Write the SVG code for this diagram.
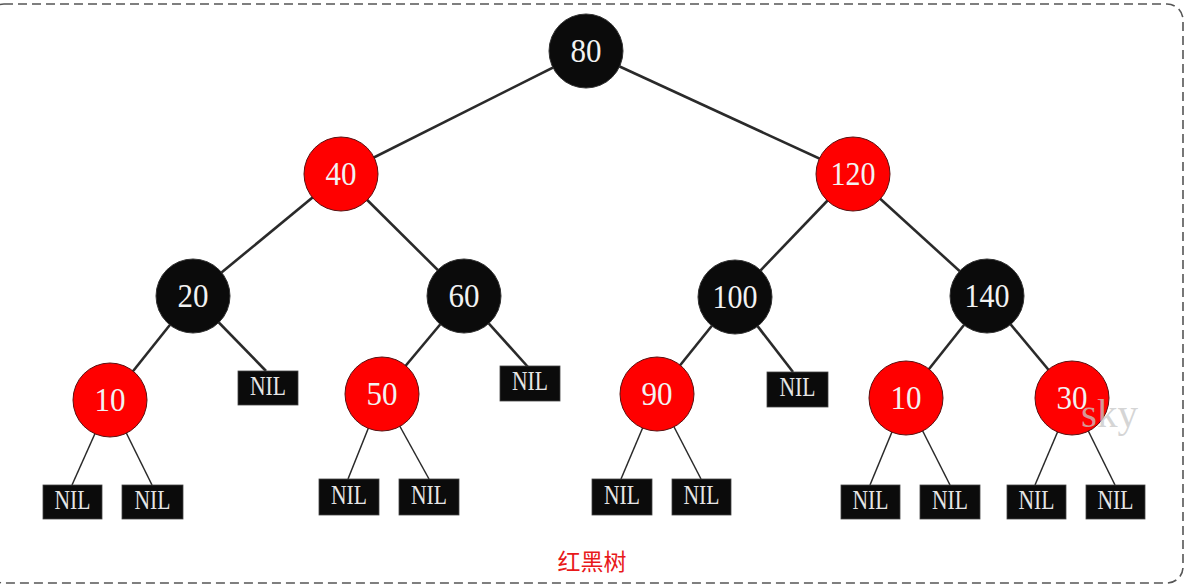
<svg xmlns="http://www.w3.org/2000/svg" width="1196" height="586" viewBox="0 0 1196 586">
<style>
.frame{fill:none;stroke:#555;stroke-width:1.6;stroke-dasharray:9 5}
.e{stroke:#2a2a2a;stroke-width:2.6;fill:none}
.t{stroke:#2a2a2a;stroke-width:1.5;fill:none}
.red{fill:#ff0000;stroke:#5a1010;stroke-width:1}
.blk{fill:#0b0b0b;stroke:#333;stroke-width:1}
.nil{fill:#0b0b0b;stroke:#444;stroke-width:0.8}
.lbl{font-family:"Liberation Serif","DejaVu Serif",serif;font-size:34px;fill:#f2f2f2;text-anchor:middle}
.nl{font-family:"Liberation Serif","DejaVu Serif",serif;font-size:27px;fill:#e6e6e6;text-anchor:middle}
.cap{font-family:"Noto Sans CJK SC","Noto Sans",sans-serif;font-size:23px;fill:#e8191a;text-anchor:middle}
.wm{font-family:"Liberation Serif","DejaVu Serif",serif;font-size:39px;fill:#c8c8c8;fill-opacity:0.75}
</style>
<rect class="frame" x="-12" y="4" width="1195" height="579" rx="16"/>
<g id="connectors">
<line class="e" x1="586" y1="51" x2="341" y2="174"/>
<line class="e" x1="586" y1="51" x2="853" y2="174"/>
<line class="e" x1="341" y1="174" x2="193" y2="296"/>
<line class="e" x1="341" y1="174" x2="464" y2="296"/>
<line class="e" x1="853" y1="174" x2="735" y2="297"/>
<line class="e" x1="853" y1="174" x2="987" y2="296"/>
<line class="e" x1="193" y1="296" x2="110" y2="400"/>
<line class="e" x1="193" y1="296" x2="266" y2="371"/>
<line class="e" x1="464" y1="296" x2="382" y2="394"/>
<line class="e" x1="464" y1="296" x2="528" y2="367"/>
<line class="e" x1="735" y1="297" x2="657" y2="394"/>
<line class="e" x1="735" y1="297" x2="793" y2="372"/>
<line class="e" x1="987" y1="296" x2="906" y2="398"/>
<line class="e" x1="987" y1="296" x2="1072" y2="398"/>
<line class="t" x1="110" y1="400" x2="72" y2="485"/>
<line class="t" x1="110" y1="400" x2="152" y2="485"/>
<line class="t" x1="382" y1="394" x2="348" y2="479"/>
<line class="t" x1="382" y1="394" x2="429" y2="479"/>
<line class="t" x1="657" y1="394" x2="621" y2="479"/>
<line class="t" x1="657" y1="394" x2="701" y2="479"/>
<line class="t" x1="906" y1="398" x2="870" y2="485"/>
<line class="t" x1="906" y1="398" x2="950" y2="485"/>
<line class="t" x1="1072" y1="398" x2="1035" y2="485"/>
<line class="t" x1="1072" y1="398" x2="1115" y2="485"/>
</g>
<g id="n80"><circle class="blk" cx="586" cy="51" r="37"/><text class="lbl" x="586" y="62" textLength="31" lengthAdjust="spacingAndGlyphs">80</text></g>
<g id="n40"><circle class="red" cx="341" cy="174" r="37"/><text class="lbl" x="341" y="185" textLength="31" lengthAdjust="spacingAndGlyphs">40</text></g>
<g id="n120"><circle class="red" cx="853" cy="174" r="37"/><text class="lbl" x="853" y="185" textLength="45" lengthAdjust="spacingAndGlyphs">120</text></g>
<g id="n20"><circle class="blk" cx="193" cy="296" r="37"/><text class="lbl" x="193" y="307" textLength="31" lengthAdjust="spacingAndGlyphs">20</text></g>
<g id="n60"><circle class="blk" cx="464" cy="296" r="37"/><text class="lbl" x="464" y="307" textLength="31" lengthAdjust="spacingAndGlyphs">60</text></g>
<g id="n100"><circle class="blk" cx="735" cy="297" r="37"/><text class="lbl" x="735" y="308" textLength="45" lengthAdjust="spacingAndGlyphs">100</text></g>
<g id="n140"><circle class="blk" cx="987" cy="296" r="37"/><text class="lbl" x="987" y="307" textLength="45" lengthAdjust="spacingAndGlyphs">140</text></g>
<g id="n10a"><circle class="red" cx="110" cy="400" r="37"/><text class="lbl" x="110" y="411" textLength="31" lengthAdjust="spacingAndGlyphs">10</text></g>
<g id="n50"><circle class="red" cx="382" cy="394" r="37"/><text class="lbl" x="382" y="405" textLength="31" lengthAdjust="spacingAndGlyphs">50</text></g>
<g id="n90"><circle class="red" cx="657" cy="394" r="37"/><text class="lbl" x="657" y="405" textLength="31" lengthAdjust="spacingAndGlyphs">90</text></g>
<g id="n10b"><circle class="red" cx="906" cy="398" r="37"/><text class="lbl" x="906" y="409" textLength="31" lengthAdjust="spacingAndGlyphs">10</text></g>
<g id="n30"><circle class="red" cx="1072" cy="398" r="37"/><text class="lbl" x="1072" y="409" textLength="31" lengthAdjust="spacingAndGlyphs">30</text></g>
<g id="nil1"><rect class="nil" x="43" y="485" width="59" height="34"/><text class="nl" x="72.5" y="509" textLength="36" lengthAdjust="spacingAndGlyphs">NIL</text></g>
<g id="nil2"><rect class="nil" x="122" y="485" width="61" height="34"/><text class="nl" x="152.5" y="509" textLength="36" lengthAdjust="spacingAndGlyphs">NIL</text></g>
<g id="nil3"><rect class="nil" x="238" y="371" width="60" height="34"/><text class="nl" x="268" y="395" textLength="36" lengthAdjust="spacingAndGlyphs">NIL</text></g>
<g id="nil4"><rect class="nil" x="319" y="479" width="60" height="36"/><text class="nl" x="349" y="504" textLength="36" lengthAdjust="spacingAndGlyphs">NIL</text></g>
<g id="nil5"><rect class="nil" x="399" y="479" width="60" height="36"/><text class="nl" x="429" y="504" textLength="36" lengthAdjust="spacingAndGlyphs">NIL</text></g>
<g id="nil6"><rect class="nil" x="500" y="366" width="60" height="35"/><text class="nl" x="530" y="390" textLength="36" lengthAdjust="spacingAndGlyphs">NIL</text></g>
<g id="nil7"><rect class="nil" x="592" y="479" width="60" height="36"/><text class="nl" x="622" y="504" textLength="36" lengthAdjust="spacingAndGlyphs">NIL</text></g>
<g id="nil8"><rect class="nil" x="672" y="479" width="59" height="36"/><text class="nl" x="701.5" y="504" textLength="36" lengthAdjust="spacingAndGlyphs">NIL</text></g>
<g id="nil9"><rect class="nil" x="767" y="372" width="61" height="35"/><text class="nl" x="797.5" y="396" textLength="36" lengthAdjust="spacingAndGlyphs">NIL</text></g>
<g id="nil10"><rect class="nil" x="841" y="485" width="59" height="34"/><text class="nl" x="870.5" y="509" textLength="36" lengthAdjust="spacingAndGlyphs">NIL</text></g>
<g id="nil11"><rect class="nil" x="920" y="485" width="60" height="34"/><text class="nl" x="950" y="509" textLength="36" lengthAdjust="spacingAndGlyphs">NIL</text></g>
<g id="nil12"><rect class="nil" x="1007" y="485" width="59" height="34"/><text class="nl" x="1036.5" y="509" textLength="36" lengthAdjust="spacingAndGlyphs">NIL</text></g>
<g id="nil13"><rect class="nil" x="1086" y="485" width="59" height="34"/><text class="nl" x="1115.5" y="509" textLength="36" lengthAdjust="spacingAndGlyphs">NIL</text></g>
<text class="wm" x="1081" y="427" textLength="57" lengthAdjust="spacingAndGlyphs">sky</text>
<text class="cap" x="592" y="570">红黑树</text>
</svg>
